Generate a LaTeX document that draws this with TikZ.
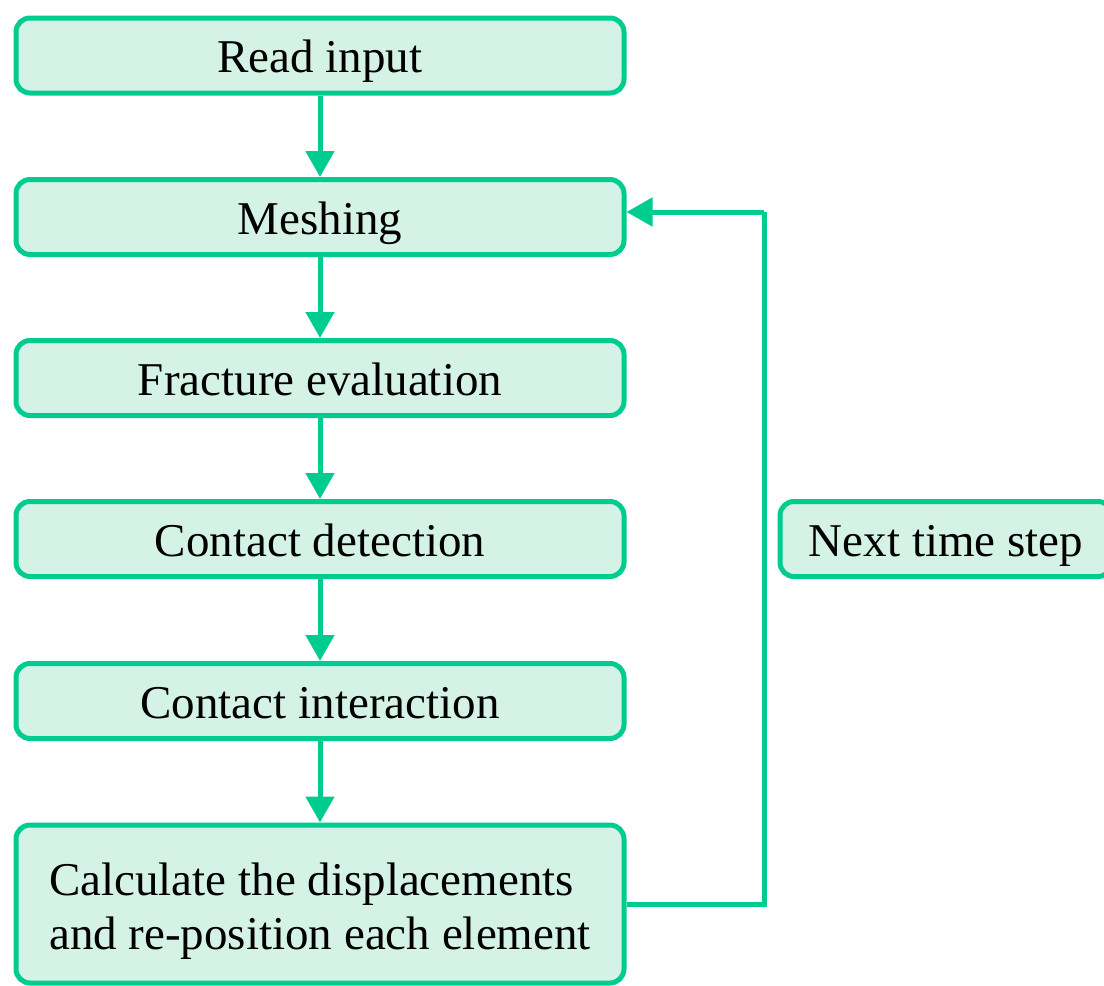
\documentclass[tikz,border=0pt]{standalone}
\usepackage{fontspec}
\setmainfont{Liberation Serif}
\usetikzlibrary{arrows.meta}
\definecolor{edgegreen}{RGB}{0,204,144}
\definecolor{fillgreen}{RGB}{212,242,230}
\tikzset{
  x=1pt, y=-1pt,
  flowbox/.style={draw=edgegreen, fill=fillgreen, line width=5pt, rounded corners=14pt,
    minimum width=608pt, minimum height=75pt, inner sep=0pt,
    text height=36pt, text depth=2pt,
    font=\fontsize{47}{54}\selectfont, text=black},
  flowarrow/.style={draw=edgegreen, line width=5pt,
    -{Triangle[width=28pt,length=26pt]}},
  flowline/.style={draw=edgegreen, line width=5pt}
}
\begin{document}
\begin{tikzpicture}
\useasboundingbox (0,0) rectangle (1104,986);
\clip (0,0) rectangle (1104,986);
\node[flowbox] (read) at (320,55.5) {Read input};
\node[flowbox] (mesh) at (320,217) {Meshing};
\node[flowbox] (frac) at (320,378) {Fracture evaluation};
\node[flowbox] (cdet) at (320,539) {Contact detection};
\node[flowbox] (cint) at (320,701) {Contact interaction};
\node[flowbox, minimum height=158pt, text height=92pt, text depth=2pt] (calc) at (320,904)
  {\begin{tabular}[b]{@{}l@{}}Calculate the displacements\\and re-position each element\end{tabular}};
\node[flowbox, minimum width=332pt] (next) at (946,539) {Next time step};
\draw[flowarrow] (read) -- (mesh);
\draw[flowarrow] (mesh) -- (frac);
\draw[flowarrow] (frac) -- (cdet);
\draw[flowarrow] (cdet) -- (cint);
\draw[flowarrow] (cint) -- (calc);
\coordinate (turn) at (764,212);
\draw[flowline] (calc.east) -| (turn);
\draw[flowarrow] (turn) -- (mesh.east |- turn);
\end{tikzpicture}
\end{document}
